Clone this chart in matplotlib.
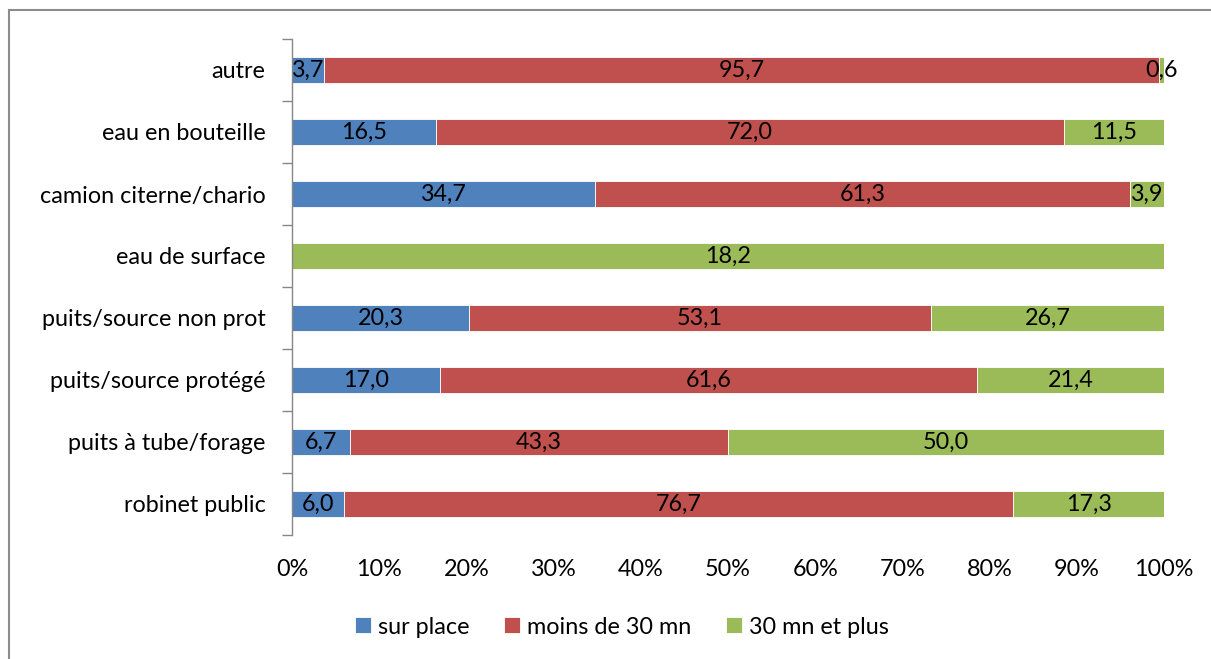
import matplotlib
matplotlib.use("Agg")
import matplotlib.pyplot as plt
from matplotlib.patches import Rectangle
import numpy as np

plt.rcParams['font.family'] = ['Lato', 'DejaVu Sans']

categories = ["robinet public", "puits à tube/forage", "puits/source protégé",
              "puits/source non prot", "eau de surface", "camion citerne/chario",
              "eau en bouteille", "autre"]
series_names = ["sur place", "moins de 30 mn", "30 mn et plus"]
sur_place = [6.0, 6.7, 17.0, 20.3, 0.0, 34.7, 16.5, 3.7]
moins_30 = [76.7, 43.3, 61.6, 53.1, 0.0, 61.3, 72.0, 95.7]
plus_30 = [17.3, 50.0, 21.4, 26.7, 18.2, 3.9, 11.5, 0.6]
colors = ["#4F81BD", "#C0504D", "#9BBB59"]
xtick_labels = [f"{v}%" for v in range(0, 101, 10)]

FS = 16.8

fig = plt.figure(figsize=(12.11, 6.59), dpi=100)
ax = fig.add_axes([292/1211, 1-535/659, (1164-292)/1211, (535-39)/659])

# chart area border
fig.patches.append(Rectangle((9/1211, -0.05), 1.2, 1-10/659+0.05,
                             transform=fig.transFigure, fill=False,
                             edgecolor="#8c8c8c", linewidth=1.5, zorder=0))

data = np.array([sur_place, moins_30, plus_30])
totals = data.sum(axis=0)
pct = data / totals * 100
y = np.arange(len(categories))
left = np.zeros(len(categories))
handles = []
for i, name in enumerate(series_names):
    bars = ax.barh(y, pct[i], left=left, height=0.42, color=colors[i],
                   edgecolor="white", linewidth=0.6, label=name)
    handles.append(bars)
    for j in range(len(categories)):
        v = data[i, j]
        if v > 0:
            ax.text(left[j] + pct[i, j] / 2, y[j], f"{v:.1f}".replace(".", ","),
                    ha="center", va="center", fontsize=FS, color="black")
    left += pct[i]

ax.set_xlim(0, 100)
ax.set_ylim(-0.5, len(categories) - 0.5)
ax.set_xticks(np.arange(0, 101, 10))
ax.set_xticklabels(xtick_labels, fontsize=FS)
ax.tick_params(axis="x", length=0, pad=17)
ax.set_yticks(y)
ax.set_yticklabels(categories, fontsize=FS)
ax.tick_params(axis="y", length=0, pad=19)
ax.set_yticks(np.arange(-0.5, len(categories), 1), minor=True)
ax.tick_params(axis="y", which="minor", length=7, color="#868686", width=1)
for s in ["top", "right", "bottom"]:
    ax.spines[s].set_visible(False)
ax.spines["left"].set_color("#868686")
ax.spines["left"].set_linewidth(1)

fig.legend(handles, series_names, loc="center", bbox_to_anchor=(622/1211, 1-627/659),
           ncol=3, frameon=False, fontsize=FS, handlelength=0.68, handleheight=0.68,
           handletextpad=0.3, columnspacing=1.5)

fig.savefig("out.png", dpi=100)
